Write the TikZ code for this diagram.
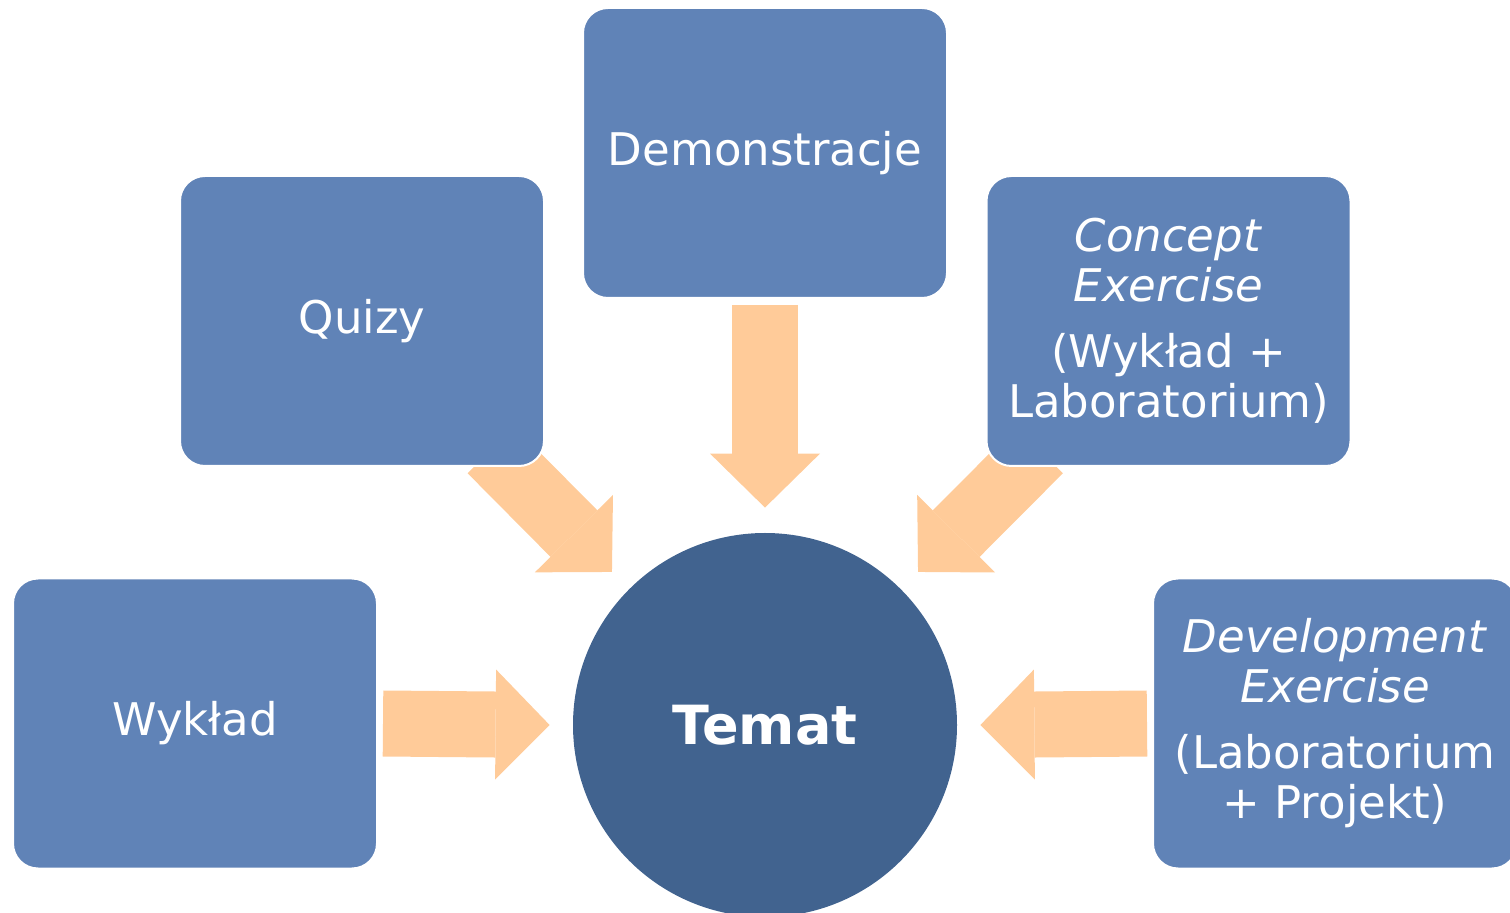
\documentclass[tikz,border=0pt]{standalone}
\usepackage{fontspec}
\setmainfont{DejaVu Sans}
\usepackage{xcolor}
\usepackage{tikz}
\usetikzlibrary{arrows.meta, positioning, calc, backgrounds}

\definecolor{boxblue}{RGB}{96,131,183}
\definecolor{coreblue}{RGB}{65,99,143}
\definecolor{peach}{RGB}{255,203,153}

\begin{document}
\begin{tikzpicture}[
  x=0.5pt, y=-0.5pt,
  box/.style={draw=white, line width=1pt, fill=boxblue, rounded corners=12.5pt, minimum width=182pt, minimum height=145pt, align=center, text=white, font=\fontsize{22.5}{25}\selectfont, inner sep=2pt},
  core/.style={circle, fill=coreblue, minimum size=192pt, inner sep=0pt, text=white, font=\fontsize{27}{32}\selectfont\bfseries},
  bigarr/.style={peach, line width=33pt, -{Triangle[length=27pt 0 0, width=55pt 0 0, line width=0pt 0 0]}}
]
\useasboundingbox (0,0) rectangle (1510,913);

\node[core] (temat) at (765,725) {Temat};

\node[box] (demo) at (765,153) {Demonstracje};
\node[box] (quizy) at (362,321) {Quizy};
\node[box] (concept) at (1168.5,321) {\textit{Concept}\\\textit{Exercise}\\[8pt](Wykład +\\Laboratorium)};
\node[box] (wyklad) at (195,723.5) {Wykład};
\node[box] (devel) at (1335,723.5) {\textit{Development}\\\textit{Exercise}\\[8pt](Laboratorium\\+ Projekt)};

% arrow ends
\coordinate (d0) at ($(demo.south)+(0,6)$);
\coordinate (d1) at ($(temat.north)+(0,-25)$);
\coordinate (w0) at ($(wyklad.east)+(5,0)$);
\coordinate (w1) at ($(temat.west)+(-23,0)$);
\coordinate (v0) at ($(devel.west)+(-5,0)$);
\coordinate (v1) at ($(temat.east)+(23,0)$);
\coordinate (q0) at ($(quizy.south east)+(-54,-17)$);
\coordinate (q1) at ($(temat.135)+(-17,-17)$);
\coordinate (c0) at ($(concept.south west)+(54,-17)$);
\coordinate (c1) at ($(temat.45)+(17,-17)$);

\begin{scope}[on background layer]
\draw[bigarr] (d0) -- (d1);
\draw[bigarr] (w0) -- (w1);
\draw[bigarr] (v0) -- (v1);
\draw[bigarr] (q0) -- (q1);
\draw[bigarr] (c0) -- (c1);
\end{scope}

\end{tikzpicture}
\end{document}
